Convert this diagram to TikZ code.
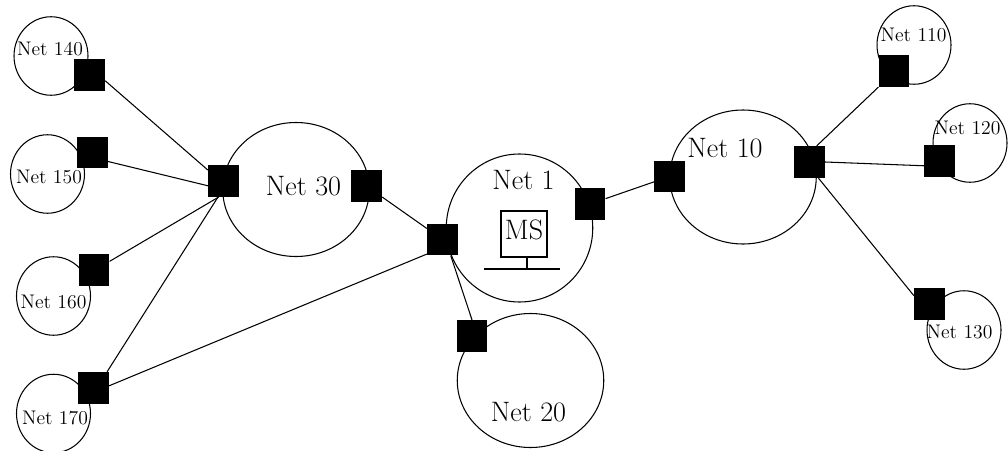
\documentclass[tikz,border=0pt]{standalone}
\usetikzlibrary{shapes.geometric}

\begin{document}
\begin{tikzpicture}[
    bignet/.style={ellipse, draw, line width=0.6pt, inner sep=0pt, minimum width=2.93cm, minimum height=2.68cm},
    smallnet/.style={ellipse, draw, line width=0.6pt, inner sep=0pt, minimum width=1.48cm, minimum height=1.57cm},
    gateway/.style={rectangle, fill=black, inner sep=0pt, minimum width=0.61cm, minimum height=0.63cm},
    biglabel/.style={inner sep=0pt, font=\fontsize{16}{18}\selectfont},
    smalllabel/.style={inner sep=0pt, font=\fontsize{11.2}{13}\selectfont},
    link/.style={line width=0.6pt},
]
    \useasboundingbox (0, 0) rectangle (20.16, 9);

    % Networks
    \node[smallnet] (net140) at (1.02, 7.88) {};
    \node[smallnet] (net150) at (0.95, 5.52) {};
    \node[smallnet] (net160) at (1.07, 3.08) {};
    \node[smallnet] (net170) at (1.07, 0.73) {};
    \node[bignet] (net30) at (5.92, 5.21) {};
    \node[bignet, minimum height=2.96cm] (net1) at (10.39, 4.44) {};
    \node[bignet] (net10) at (14.86, 5.46) {};
    \node[bignet] (net20) at (10.61, 1.39) {};
    \node[smallnet] (net110) at (18.28, 8.10) {};
    \node[smallnet] (net120) at (19.40, 6.14) {};
    \node[smallnet] (net130) at (19.28, 2.40) {};

    % Labels
    \node[smalllabel] (label140) at (1.00, 8.02) {Net 140};
    \node[smalllabel] (label150) at (0.98, 5.46) {Net 150};
    \node[smalllabel] (label160) at (1.07, 2.96) {Net 160};
    \node[smalllabel] (label170) at (1.10, 0.64) {Net 170};
    \node[biglabel] (label30) at (6.07, 5.28) {Net 30};
    \node[biglabel] (label1) at (10.47, 5.40) {Net 1};
    \node[biglabel] (label10) at (14.50, 6.04) {Net 10};
    \node[biglabel] (label20) at (10.57, 0.75) {Net 20};
    \node[smalllabel] (label110) at (18.27, 8.31) {Net 110};
    \node[smalllabel] (label120) at (19.35, 6.44) {Net 120};
    \node[smalllabel] (label130) at (19.19, 2.37) {Net 130};

    % Gateways
    \node[gateway] (gw140) at (1.79, 7.50) {};
    \node[gateway] (gw150) at (1.85, 5.95) {};
    \node[gateway] (gw160) at (1.88, 3.60) {};
    \node[gateway] (gw170) at (1.87, 1.24) {};
    \node[gateway] (hubwest) at (4.47, 5.38) {};
    \node[gateway] (gw30) at (7.33, 5.28) {};
    \node[gateway] (bridge) at (8.85, 4.21) {};
    \node[gateway] (gw20) at (9.44, 2.28) {};
    \node[gateway] (gw1) at (11.80, 4.92) {};
    \node[gateway] (gw10) at (13.39, 5.47) {};
    \node[gateway] (hubeast) at (16.19, 5.76) {};
    \node[gateway] (gw110) at (17.88, 7.58) {};
    \node[gateway] (gw120) at (18.79, 5.78) {};
    \node[gateway] (gw130) at (18.59, 2.92) {};

    % Server
    \node[draw, line width=0.9pt, inner sep=0pt, minimum width=0.93cm, minimum height=0.93cm, text depth=0.19cm, font=\fontsize{16}{18}\selectfont] (ms) at (10.48, 4.32) {MS};
    \coordinate (stemfoot) at (10.54, 3.62);
    \coordinate (busleft) at (9.68, 3.62);
    \coordinate (busright) at (11.20, 3.62);
    \draw[line width=0.9pt] (ms.-83) -- (stemfoot);
    \draw[line width=1.1pt] (busleft) -- (busright);

    % Links
    \draw[link] (gw140.-20) -- (hubwest.145);
    \draw[link] (gw150.-30) -- (hubwest.197);
    \draw[link] (gw160.29) -- (hubwest.253);
    \draw[link] (gw170.50) -- (hubwest.251);
    \draw[link] (gw170.8) -- (bridge.223);
    \draw[link] (gw30) -- (bridge);
    \draw[link] (bridge.-63) -- (gw20.north);
    \draw[link] (gw1) -- (gw10);
    \draw[link] (hubeast.66) -- (gw110.south west);
    \draw[link] (hubeast.east) -- (gw120.197);
    \draw[link] (hubeast.-61) -- (gw130.152);
\end{tikzpicture}
\end{document}
